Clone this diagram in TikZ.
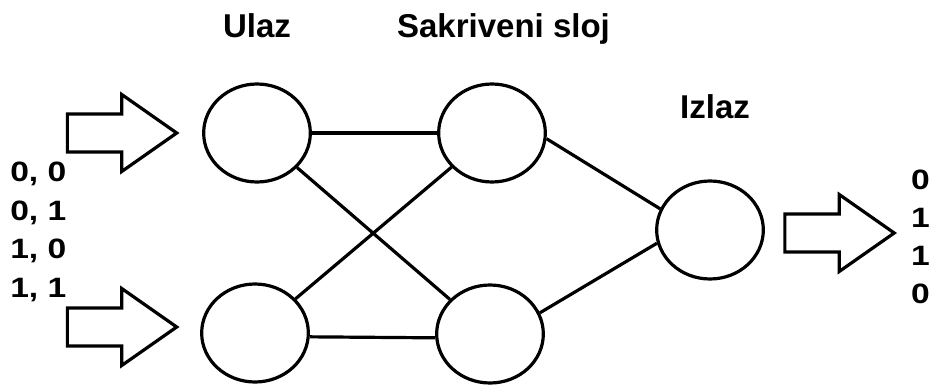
\documentclass[tikz,border=0pt]{standalone}
\usepackage{fontspec}
\setmainfont{Liberation Sans}
\newfontfamily\digitfont[FakeStretch=1.2]{Liberation Sans}
\usetikzlibrary{shapes.geometric,shapes.arrows}

\begin{document}
\begin{tikzpicture}[x=0.75pt, y=-0.75pt,
    neuron/.style={ellipse, draw, line width=2.4pt, minimum width=80pt, minimum height=73.5pt, inner sep=0pt},
    bigarrow/.style={single arrow, draw, line width=2.4pt, inner xsep=0pt, inner ysep=13.1pt,
      minimum width=0pt, minimum height=82pt, single arrow head extend=14.6pt, single arrow tip angle=70},
    link/.style={line width=2.4pt},
    title/.style={font=\fontsize{24.75}{30}\selectfont\bfseries, anchor=base, inner sep=0pt},
    values/.style={font=\digitfont\fontsize{21}{28.9}\selectfont\bfseries, inner sep=0pt}
  ]
    \useasboundingbox (0,0) rectangle (932,385);

    % Neurons
    \node[neuron] (inA) at (257,133) {};
    \node[neuron] (inB) at (255,333) {};
    \node[neuron] (hidA) at (492,133) {};
    \node[neuron] (hidB) at (490,334) {};
    \node[neuron] (out) at (710,230) {};

    % Connections
    \draw[link] (inA) -- (hidA);
    \draw[link] (inA) -- (hidB);
    \draw[link] (inB) -- (hidA);
    \draw[link] (inB.-4) -- (hidB.184);
    \draw[link] (hidA.-6) -- (out.157);
    \draw[link] (hidB.23) -- (out.194);

    % Input and output arrows
    \node[bigarrow, anchor=tip] (arrA) at (179.5,133) {};
    \node[bigarrow, anchor=tip] (arrB) at (179.5,327) {};
    \node[bigarrow, anchor=tip] (arrOut) at (897,233) {};

    % Labels
    \node[title] (tIn) at (257,38) {Ulaz};
    \node[title] (tHid) at (503.5,37.5) {Sakriveni sloj};
    \node[title] (tOut) at (715,118) {Izlaz};

    % Values
    \node[values, anchor=north west, align=left] (inVals) at (10,162) {0, 0\\0, 1\\1, 0\\1, 1};
    \node[values, anchor=north, align=center, font=\digitfont\fontsize{21}{28.3}\selectfont\bfseries] (outVals) at (920.5,170) {0\\1\\1\\0};

  \end{tikzpicture}
\end{document}
